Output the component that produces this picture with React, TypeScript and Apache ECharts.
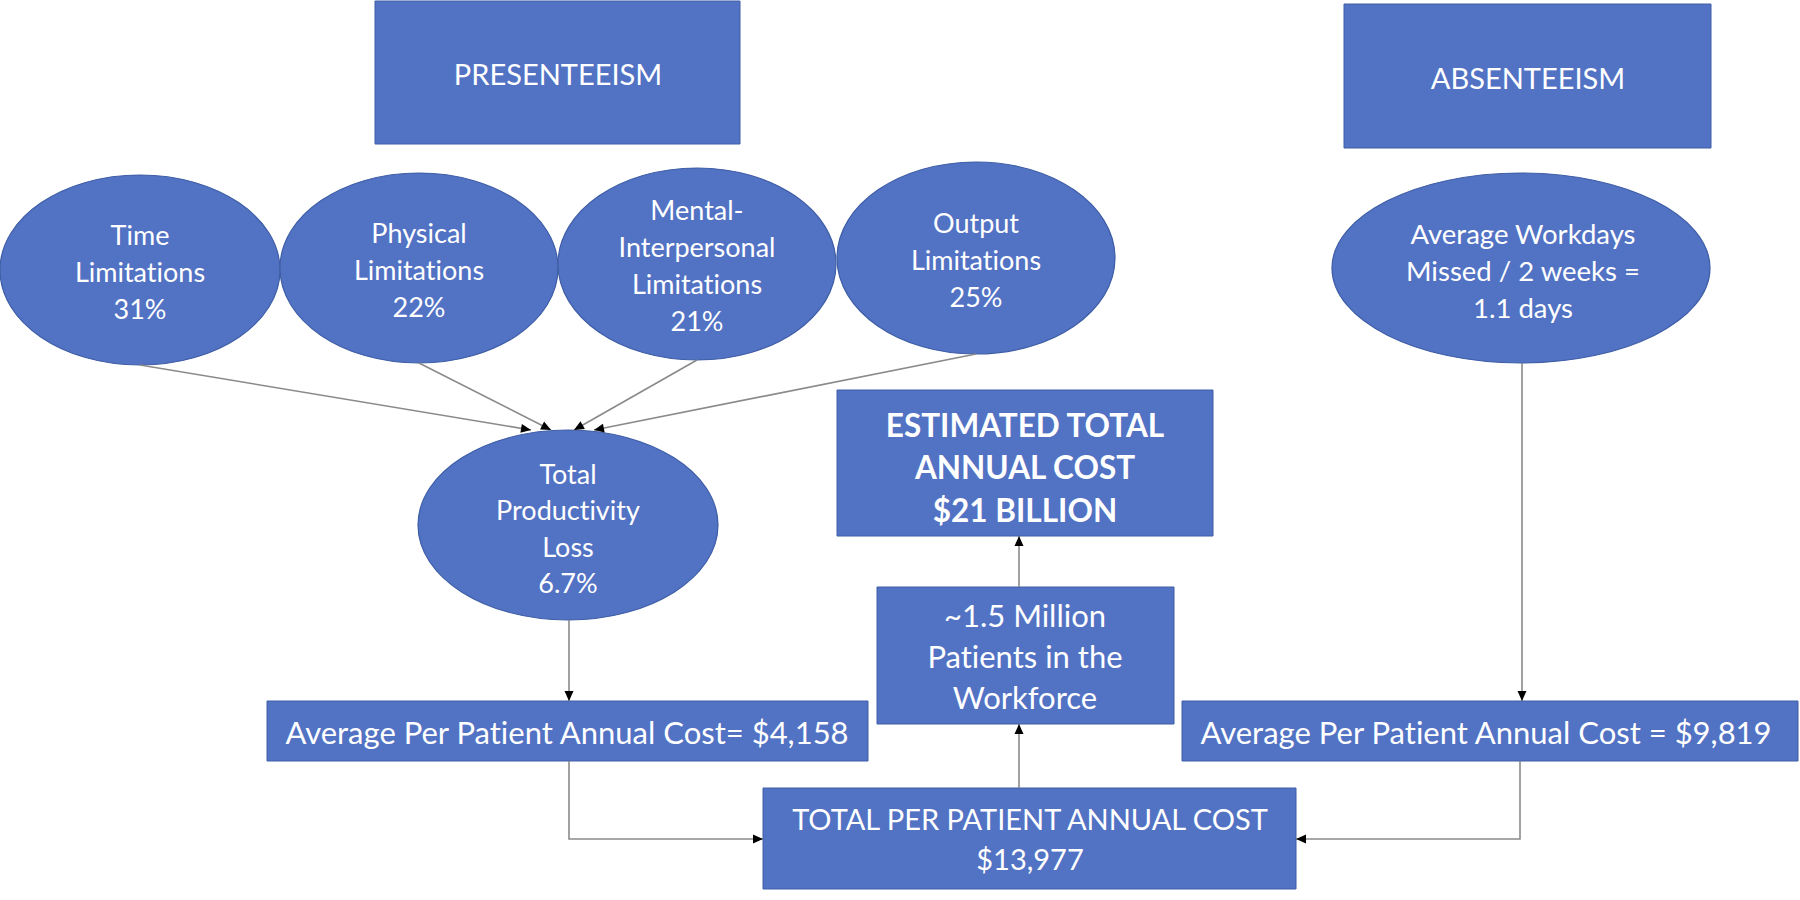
import React, { useEffect, useRef } from "react";
import * as echarts from "echarts";

// ---- Diagram content (values / labels) ----
const headerLabels = ["PRESENTEEISM", "ABSENTEEISM"];
const limitationNames = ["Time\nLimitations", "Physical\nLimitations", "Mental-\nInterpersonal\nLimitations", "Output\nLimitations"];
const limitationPcts = ["31%", "22%", "21%", "25%"];
const productivityLoss = "6.7%";
const workdaysMissed = "1.1 days";
const presenteeismCost = "$4,158";
const absenteeismCost = "$9,819";
const totalPerPatientCost = "$13,977";
const patientsInWorkforce = "~1.5 Million";
const totalAnnualCost = "$21 BILLION";

// ---- Layout (positions / sizes) ----
const FILL = "#5272c4";
const STROKE = "#3f5ea6";
const LINE = "#8a8a8a";
const FONT = "Lato, 'Open Sans', sans-serif";

const limitEllipses = [
  { cx: 140, cy: 270, rx: 140, ry: 95 },
  { cx: 419, cy: 268, rx: 139, ry: 95 },
  { cx: 697, cy: 264, rx: 139, ry: 96 },
  { cx: 976, cy: 258, rx: 139, ry: 96 },
];
const arrowTips = [
  [531, 430],
  [551, 430],
  [574, 430],
  [594, 430],
];
const workEllipse = { cx: 1521, cy: 268, rx: 189, ry: 95 };
const totalEllipse = { cx: 568, cy: 525, rx: 150, ry: 95 };

const boxes = {
  pres: { x: 375, y: 1, width: 365, height: 143 },
  abs: { x: 1344, y: 4, width: 367, height: 144 },
  est: { x: 837, y: 390, width: 376, height: 146 },
  mil: { x: 877, y: 587, width: 297, height: 137 },
  avgL: { x: 267, y: 701, width: 601, height: 60 },
  avgR: { x: 1182, y: 701, width: 616, height: 60 },
  tot: { x: 763, y: 788, width: 533, height: 101 },
};

function txt(x: number, y: number, text: string, size: number, lh: number, bold = false) {
  return {
    type: "text",
    x,
    y,
    z: 10,
    style: {
      text,
      fill: "#ffffff",
      font: `${bold ? "bold " : ""}${size}px ${FONT}`,
      fontSize: size,
      fontFamily: FONT,
      fontWeight: bold ? "bold" : "normal",
      lineHeight: lh,
      align: "center",
      verticalAlign: "middle",
      textAlign: "center",
      textVerticalAlign: "middle",
    },
  };
}

function rect(b: { x: number; y: number; width: number; height: number }) {
  return {
    type: "rect",
    shape: { ...b },
    z: 5,
    style: { fill: FILL, stroke: STROKE, lineWidth: 1 },
  };
}

function ellipse(e: { cx: number; cy: number; rx: number; ry: number }) {
  return {
    type: "ellipse",
    shape: { ...e },
    z: 5,
    style: { fill: FILL, stroke: STROKE, lineWidth: 1.2 },
  };
}

function arrowHead(x1: number, y1: number, x2: number, y2: number) {
  const dx = x2 - x1;
  const dy = y2 - y1;
  const len = Math.sqrt(dx * dx + dy * dy);
  const ux = dx / len;
  const uy = dy / len;
  const L = 10;
  const W = 4.5;
  const bx = x2 - ux * L;
  const by = y2 - uy * L;
  return {
    type: "polygon",
    z: 8,
    shape: {
      points: [
        [x2, y2],
        [bx - uy * W, by + ux * W],
        [bx + uy * W, by - ux * W],
      ],
    },
    style: { fill: "#000000" },
  };
}

function connector(points: number[][]) {
  const n = points.length;
  return [
    {
      type: "polyline",
      z: 7,
      shape: { points },
      style: { stroke: LINE, lineWidth: 1.6, fill: null },
    },
    arrowHead(points[n - 2][0], points[n - 2][1], points[n - 1][0], points[n - 1][1]),
  ];
}

export default function App() {
  const ref = useRef<HTMLDivElement>(null);

  useEffect(() => {
    if (!ref.current) return;
    const chart = echarts.init(ref.current, undefined, { renderer: "svg" });

    const elements: any[] = [];

    // header boxes
    elements.push(rect(boxes.pres));
    elements.push(txt(558, 73, headerLabels[0], 29, 34));
    elements.push(rect(boxes.abs));
    elements.push(txt(1528, 77, headerLabels[1], 29, 34));

    // limitation ellipses
    limitEllipses.forEach((e, i) => {
      elements.push(ellipse(e));
      elements.push(txt(e.cx, e.cy + 1, `${limitationNames[i]}\n${limitationPcts[i]}`, 27, 37));
      elements.push(...connector([[e.cx, e.cy + e.ry], arrowTips[i]]));
    });

    // workdays ellipse
    elements.push(ellipse(workEllipse));
    elements.push(txt(workEllipse.cx + 2, workEllipse.cy + 2, `Average Workdays\nMissed / 2 weeks =\n${workdaysMissed}`, 27.5, 37));

    // total productivity ellipse
    elements.push(ellipse(totalEllipse));
    elements.push(txt(totalEllipse.cx, totalEllipse.cy + 3, `Total\nProductivity\nLoss\n${productivityLoss}`, 27, 36.5));

    // boxes
    elements.push(rect(boxes.est));
    elements.push(txt(1025, 467, `ESTIMATED TOTAL\nANNUAL COST\n${totalAnnualCost}`, 31.5, 42.5, true));
    elements.push(rect(boxes.mil));
    elements.push(txt(1025, 656, `${patientsInWorkforce}\nPatients in the\nWorkforce`, 31, 41));
    elements.push(rect(boxes.avgL));
    elements.push(txt(567, 732, `Average Per Patient Annual Cost= ${presenteeismCost}`, 31, 34));
    elements.push(rect(boxes.avgR));
    elements.push(txt(1486, 732, `Average Per Patient Annual Cost = ${absenteeismCost}`, 31, 34));
    elements.push(rect(boxes.tot));
    elements.push(txt(1030, 838, `TOTAL PER PATIENT ANNUAL COST\n${totalPerPatientCost}`, 29, 40));

    // connectors
    elements.push(...connector([[569, 620], [569, 701]]));
    elements.push(...connector([[1522, 363], [1522, 701]]));
    elements.push(...connector([[569, 761], [569, 839], [763, 839]]));
    elements.push(...connector([[1520, 761], [1520, 839], [1296, 839]]));
    elements.push(...connector([[1019, 788], [1019, 724]]));
    elements.push(...connector([[1019, 587], [1019, 536]]));

    chart.setOption({
      animation: false,
      backgroundColor: "#ffffff",
      graphic: { elements },
    });

    return () => chart.dispose();
  }, []);

  return (
    <div
      ref={ref}
      style={{
        position: "fixed",
        left: 0,
        top: 0,
        width: 1800,
        height: 900,
        background: "#fff",
        fontVariantLigatures: "none",
      }}
    />
  );
}
